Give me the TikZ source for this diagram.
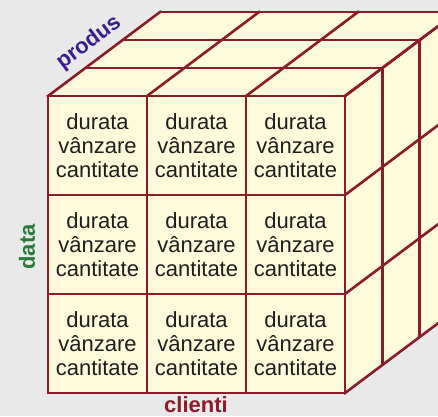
\documentclass[tikz,border=0pt]{standalone}
\usepackage{fontspec}
\setmainfont{Liberation Sans}
\definecolor{bggray}{HTML}{E9E9E9}
\definecolor{cream}{HTML}{FDFBDC}
\definecolor{edge}{HTML}{8A1C2C}
\definecolor{cellink}{HTML}{1E1E1E}
\definecolor{produscol}{HTML}{3A1E8E}
\definecolor{datacol}{HTML}{2A7A3A}
\definecolor{clienticol}{HTML}{8A1C2C}
\begin{document}
\begin{tikzpicture}[x=1pt,y=-1pt,
  grid/.style={draw=edge,line width=2.6pt,line cap=rect,line join=miter},
  cell/.style={align=center,text=cellink,font=\fontsize{22}{24}\selectfont},
  axislabel/.style={font=\bfseries\fontsize{22}{22}\selectfont,inner sep=1pt}]
\useasboundingbox (0,0) rectangle (438,416);
\clip (0,0) rectangle (438,416);
\fill[bggray] (0,0) rectangle (438,416);
% cube geometry: front face 48..345 x 96..392, depth step (37.33,-28)
\def\cw{99}
\def\ddx{37.333}
\def\ddy{28}
% faces
\fill[cream] (48,96) rectangle (345,392);
\fill[cream] (48,96) -- (160,12) -- (457,12) -- (345,96) -- cycle;
\fill[cream] (345,96) -- (457,12) -- (457,308) -- (345,392) -- cycle;
% top face grid
\foreach \k in {0,1,2,3}{
  \draw[grid] (48+\k*\ddx,96-\k*\ddy) -- (345+\k*\ddx,96-\k*\ddy);
  \draw[grid] (48+\k*\cw,96) -- (160+\k*\cw,12);
}
% right face grid
\foreach \k in {0,1,2,3}{
  \draw[grid] (345+\k*\ddx,96-\k*\ddy) -- (345+\k*\ddx,392-\k*\ddy);
  \draw[grid] (345,96+\k*\cw) -- (457,12+\k*\cw);
}
% front face grid
\foreach \k in {0,1,2,3}{
  \draw[grid] (48+\k*\cw,96) -- (48+\k*\cw,392);
  \draw[grid] (48,96+\k*\cw) -- (345,96+\k*\cw);
}
% cell contents
\foreach \i in {0,1,2}{
  \foreach \j in {0,1,2}{
    \node[cell] (c\i\j) at (97.5+\i*\cw,146+\j*\cw) {durata\\vânzare\\cantitate};
  }
}
% axis labels
\node[axislabel,text=produscol,rotate=36.87] (produs) at (89,43) {produs};
\node[axislabel,text=datacol,rotate=90] (data) at (27,247) {data};
\node[axislabel,text=clienticol] (clienti) at (196,405) {clienti};
\end{tikzpicture}
\end{document}
